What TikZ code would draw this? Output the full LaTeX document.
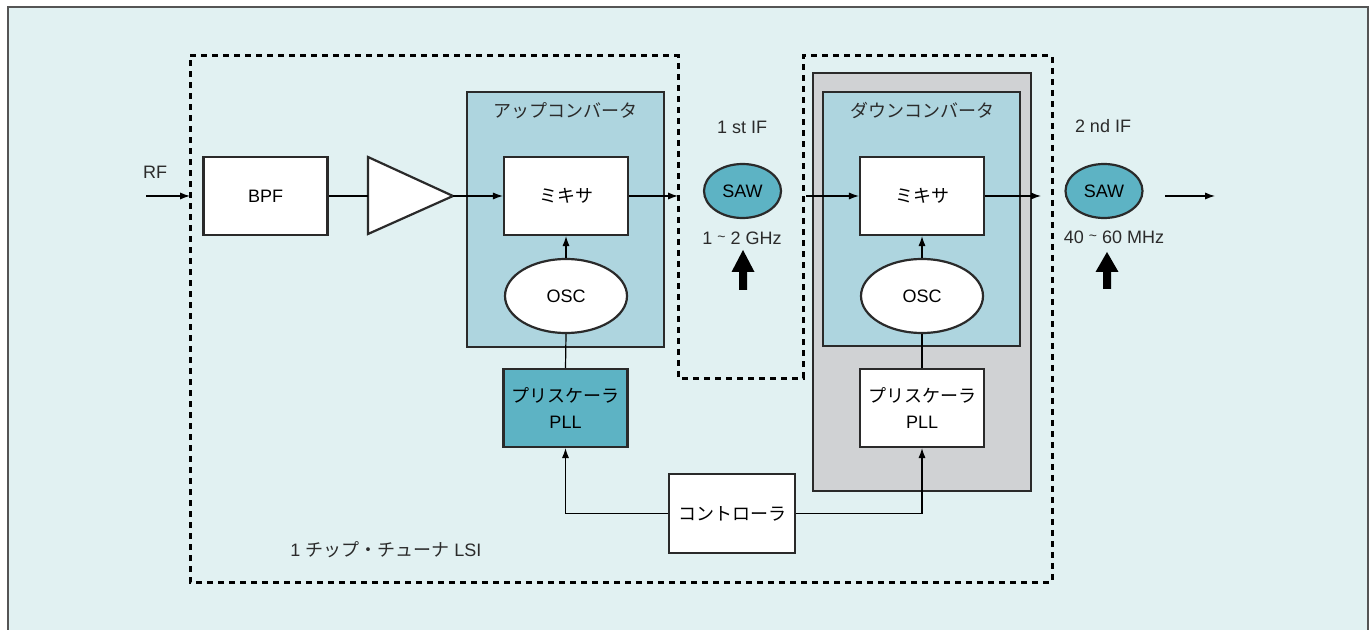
\documentclass[tikz,border=0pt]{standalone}
\usepackage{fontspec}
\setmainfont{Liberation Sans}
\newfontfamily\jp{Noto Sans CJK JP}
\usetikzlibrary{shapes.geometric,arrows.meta}
\definecolor{bgc}{HTML}{E1F1F2}
\definecolor{convc}{HTML}{AED5DF}
\definecolor{tealc}{HTML}{5DB3C4}
\definecolor{grayc}{HTML}{D0D2D4}
\definecolor{edgec}{HTML}{2A2A2A}
\definecolor{txtc}{HTML}{2B2B2B}
\definecolor{framec}{HTML}{555555}
\tikzset{
  blk/.style={draw=edgec, line width=1.1pt, fill=white, minimum width=62pt, minimum height=39pt, inner sep=0pt, align=center},
  oscnode/.style={ellipse, draw=edgec, line width=1.1pt, fill=white, minimum width=61pt, minimum height=37pt, inner sep=0pt},
  sawnode/.style={ellipse, draw=edgec, line width=1.1pt, fill=tealc, minimum width=38.5pt, minimum height=27pt, inner sep=0pt},
  conv/.style={draw=edgec, line width=0.7pt, fill=convc},
  lsi/.style={line width=1.5pt, dash pattern=on 3.2pt off 2.3pt},
  wire/.style={line width=0.6pt, draw=black},
  arr/.style={wire, -{Latex[length=5pt,width=3.6pt]}},
  lbl/.style={inner sep=0pt, text=txtc},
  bigarrow/.style={fill=black}
}
\begin{document}
\begin{tikzpicture}[x=0.5pt,y=-0.5pt, font=\fontsize{9}{13}\selectfont]
\useasboundingbox (0,0) rectangle (1369,630);
\fill[white] (0,0) rectangle (1369,630);
\fill[bgc] (8,7) rectangle (1368,630);
\draw[framec, line width=0.9pt] (8,630) -- (8,7) -- (1368,7) -- (1368,630);

% chip outline
\draw[lsi] (190,56) -- (678,56) -- (678,378) -- (803,378) -- (803,56) -- (1052,56) -- (1052,582) -- (190,582) -- cycle;

% down converter gray area
\draw[draw=edgec, fill=grayc, line width=0.8pt] (813,73) rectangle (1031,491);
% converter boxes
\draw[conv] (467,92) rectangle (664,347);
\draw[conv] (823,92) rectangle (1020,346);
\node[lbl] (upl) at (565,111) {\jp アップコンバータ};
\node[lbl] (dnl) at (922,111) {\jp ダウンコンバータ};

% blocks
\node[blk] (bpf) at (265.5,196) {BPF};
\coordinate (ampin) at (368,196);
\coordinate (amptip) at (453,196);
\draw[draw=edgec, fill=white, line width=1.1pt] (368,157) -- (453,196) -- (368,234) -- cycle;

\node[blk] (mix1) at (566,196) {\jp ミキサ};
\node[oscnode] (osc1) at (566,296) {OSC};
\node[blk, fill=tealc] (pll1) at (565.5,408) {{\jp プリスケーラ}\\PLL};

\node[blk] (mix2) at (922,196) {\jp ミキサ};
\node[oscnode] (osc2) at (922,296) {OSC};
\node[blk] (pll2) at (922,408) {{\jp プリスケーラ}\\PLL};

\node[blk, minimum width=63pt, minimum height=39.5pt] (ctrl) at (732,513.5) {\jp コントローラ};

\node[sawnode] (saw1) at (742.5,191) {SAW};
\node[sawnode] (saw2) at (1104,191) {SAW};

% labels
\node[lbl] (rf) at (155,172) {RF};
\node[lbl] (if1) at (742,127) {1 st IF};
\node[lbl] (f1) at (742,238) {1 \raisebox{0.3ex}{\scriptsize\char"7E} 2 GHz};
\node[lbl] (if2) at (1103,126) {2 nd IF};
\node[lbl] (f2) at (1114,237) {40 \raisebox{0.3ex}{\scriptsize\char"7E} 60 MHz};
\node[lbl, anchor=west] (lsil) at (290,550) {1 {\jp チップ・チューナ} LSI};

% connectors
\coordinate (rfin) at (146,196);
\coordinate (lsiL) at (190,196);
\coordinate (if1a) at (678,196);
\coordinate (if1b) at (806,196);
\coordinate (if2a) at (1041,196);
\coordinate (outa) at (1165,196);
\coordinate (outb) at (1215,196);
\draw[arr] (rfin) -- (lsiL);
\draw[wire] (bpf.east) -- (ampin);
\draw[arr] (amptip) -- (mix1.west);
\draw[arr] (mix1.east) -- (if1a);
\draw[arr] (if1b) -- (mix2.west);
\draw[arr] (mix2.east) -- (if2a);
\draw[arr] (outa) -- (outb);
\draw[arr] (osc1.north) -- (mix1.south);
\draw[arr] (osc2.north) -- (mix2.south);
\draw[wire] (pll1.north) -- (osc1.south);
\draw[wire] (pll2.north) -- (osc2.south);
\draw[arr] (ctrl.west) -| (pll1.south);
\draw[arr] (ctrl.east) -| (pll2.south);

% thick up arrows
\fill[bigarrow] (739,290) -- (739,272) -- (731.5,272) -- (743,250) -- (754.5,272) -- (747,272) -- (747,290) -- cycle;
\fill[bigarrow] (1103,289) -- (1103,272) -- (1095.5,272) -- (1107,252) -- (1118.5,272) -- (1111,272) -- (1111,289) -- cycle;
\end{tikzpicture}
\end{document}
